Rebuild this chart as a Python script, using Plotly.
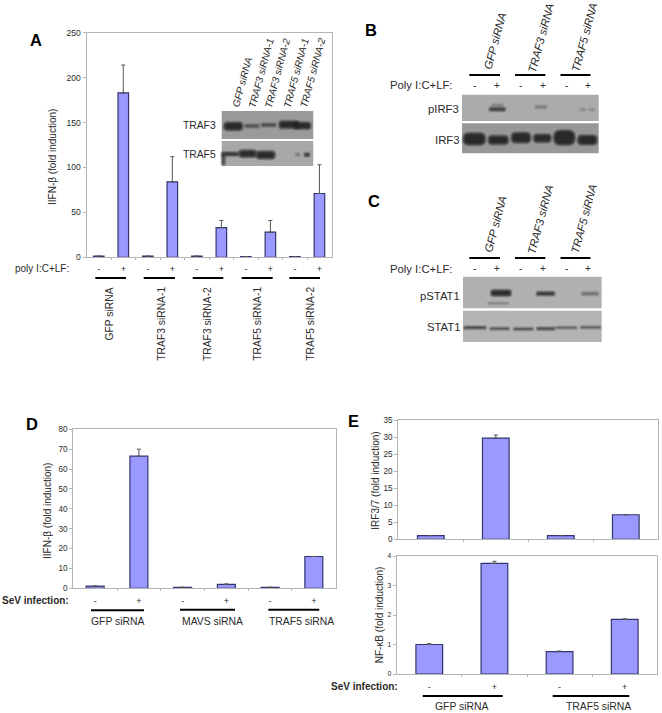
import plotly.graph_objects as go

W, H = 662, 713
FONT = "Liberation Sans, Arial, sans-serif"
FILL = "#9999FF"
EDGE = "#34346E"
AXIS = "#B4B4B4"
TXT = "#2A2A2A"

# ---------- data ----------
signs_10 = ["-", "+"] * 5
signs_6 = ["-", "+"] * 3
signs_4 = ["-", "+"] * 2

a_values = [1.2, 183, 1.2, 84, 1.2, 33, 0.8, 28, 0.8, 71]
a_errors = [None, 31, None, 28, None, 8, None, 13, None, 32]
a_ticks = [0, 50, 100, 150, 200, 250]
a_groups = ["GFP siRNA", "TRAF3 siRNA-1", "TRAF3 siRNA-2", "TRAF5 siRNA-1", "TRAF5 siRNA-2"]

d_values = [1.1, 66.5, 0.5, 2.0, 0.5, 16]
d_errors = [None, 3.5, None, 0.2, None, None]
d_ticks = [0, 10, 20, 30, 40, 50, 60, 70, 80]
d_groups = ["GFP siRNA", "MAVS siRNA", "TRAF5 siRNA"]

e1_values = [1.1, 29.7, 1.1, 7.2]
e1_errors = [None, 0.9, None, None]
e1_ticks = [0, 5, 10, 15, 20, 25, 30, 35]

e2_values = [1.0, 3.75, 0.76, 1.85]
e2_errors = [0.03, 0.07, 0.02, 0.02]
e2_ticks = [0, 1, 2, 3, 4]
e_groups = ["GFP siRNA", "TRAF5 siRNA"]

inset_lanes = ["GFP siRNA", "TRAF3 siRNA-1", "TRAF3 siRNA-2", "TRAF5 siRNA-1", "TRAF5 siRNA-2"]
blot_lanes = ["GFP siRNA", "TRAF3 siRNA", "TRAF5 siRNA"]

fig = go.Figure()
layout = {}
shapes = []
annots = []


def px(x):
    return x / W


def py(y):
    return 1 - y / H


def text(t, x, y, size=10, xa="center", ya="middle", angle=0, color=TXT):
    annots.append(dict(text=t, x=px(x), y=py(y), xref="paper", yref="paper", showarrow=False,
                       xanchor=xa, yanchor=ya, textangle=angle, borderpad=0,
                       font=dict(family=FONT, size=size, color=color)))


def line(x0, x1, y, w=2):
    shapes.append(dict(type="line", xref="paper", yref="paper", x0=px(x0), x1=px(x1),
                       y0=py(y), y1=py(y), line=dict(color="#000000", width=w)))


def panel(n, box, values, errors, ticks, labels, bar_w, tick_size, standoff=5):
    left, top, right, bottom = box
    cnt = len(values)
    pos = list(range(1, cnt + 1))
    suffix = "" if n == 1 else str(n)
    fig.add_trace(go.Bar(
        x=pos, y=values, width=bar_w, marker=dict(color=FILL, line=dict(color=EDGE, width=1.2)),
        error_y=dict(type="data", array=errors, symmetric=False, color="#555555", thickness=1, width=2),
        xaxis="x" + suffix, yaxis="y" + suffix, showlegend=False))
    layout["xaxis" + suffix] = dict(
        domain=[px(left), px(right)], anchor="y" + suffix, range=[0.5, cnt + 0.5],
        tickmode="array", tickvals=pos, ticktext=labels, ticks="", ticklabelstandoff=standoff,
        tickfont=dict(family=FONT, size=9, color=TXT),
        minor=dict(tickmode="array", tickvals=[p + 0.5 for p in pos[:-1]], ticks="outside",
                   ticklen=2, tickcolor=AXIS, tickwidth=1),
        showgrid=False, zeroline=False, showline=True, linecolor=AXIS, linewidth=1, mirror=True, fixedrange=True)
    layout["yaxis" + suffix] = dict(
        domain=[py(bottom), py(top)], anchor="x" + suffix, range=[ticks[0], ticks[-1]],
        tickmode="array", tickvals=ticks, ticks="outside", ticklen=3, tickcolor=AXIS, tickwidth=1,
        tickfont=dict(family=FONT, size=tick_size, color=TXT),
        showgrid=False, zeroline=False, showline=True, linecolor=AXIS, linewidth=1, mirror=True, fixedrange=True)


def pill(cx, cy, w, h):
    r = min(w, h) / 2
    x0, x1, y0, y1 = cx - w / 2, cx + w / 2, cy - h / 2, cy + h / 2
    pts = [("M", x0 + r, y0), ("L", x1 - r, y0), ("Q", x1, y0, x1, y0 + r), ("L", x1, y1 - r),
           ("Q", x1, y1, x1 - r, y1), ("L", x0 + r, y1), ("Q", x0, y1, x0, y1 - r), ("L", x0, y0 + r),
           ("Q", x0, y0, x0 + r, y0)]
    out = []
    for p in pts:
        vals = p[1:]
        coords = [(px(vals[i]), py(vals[i + 1])) for i in range(0, len(vals), 2)]
        out.append(p[0] + " ".join("%.5f,%.5f" % c for c in coords))
    return " ".join(out) + " Z"


def blot(x0, y0, x1, y1, bg, ox, oy, bands):
    shapes.append(dict(type="rect", xref="paper", yref="paper", x0=px(x0), x1=px(x1), y0=py(y0), y1=py(y1),
                       fillcolor=bg, line=dict(width=0), layer="below"))
    for cx, cy, w, h, alpha in bands:
        cx, cy, w, h = ox + cx / 3, oy + cy / 3, (w + 4) / 3, (h + 2) / 3
        for grow, a in ((2.2, 0.13), (1.5, 0.18), (0.9, 0.25), (0.3, 0.32), (-0.4, 0.42), (-1.2, 0.5), (-2.0, 0.5)):
            ww, hh = w + 2 * grow, h + 2 * grow
            if ww <= 0.5 or hh <= 0.5:
                continue
            shapes.append(dict(type="path", xref="paper", yref="paper", path=pill(cx, cy, ww, hh),
                               fillcolor="#242424", opacity=a * alpha, line=dict(width=0), layer="below"))


# ---------- charts ----------
panel(1, (86.5, 32.7, 331.7, 257.3), a_values, a_errors, a_ticks, signs_10, 0.43, 8.6, 3)
panel(2, (73.3, 429.3, 335.7, 588.3), d_values, d_errors, d_ticks, signs_6, 0.41, 8.2, 4)
panel(3, (398.3, 420, 658.3, 539.3), e1_values, e1_errors, e1_ticks, [""] * 4, 0.41, 8.2)
panel(4, (396.7, 556, 657.3, 674), e2_values, e2_errors, e2_ticks, signs_4, 0.41, 6.8, 4)

# ---------- panel A text ----------
text("<b>A</b>", 35.5, 40, 16.5, color="#000000")
text("IIFN-β (fold induction)", 52, 157, 10, angle=-90)
text("poly I:C+LF:", 70, 268, 10, xa="right")
for x0, x1, label, cx in zip([95.3, 143.7, 192.7, 241.7, 289.3], [126, 175, 223.3, 272.7, 320], a_groups,
                             [109, 161.7, 208, 257.7, 310.7]):
    line(x0, x1, 278)
    text(label, cx, 286, 10.3, ya="top", angle=-90)

# inset
inset_ox, inset_oy = 215, 105
blot(221.7, 111, 313.3, 139, "#9A9A9A", inset_ox, inset_oy,
     [(55, 64, 50, 20, 1), (111, 63, 36, 5, 0.6), (161, 60, 36, 5, 0.7), (222, 59, 54, 18, 1), (262, 62, 44, 16, 1)])
blot(221.7, 141, 313.3, 166, "#A8A8A8", inset_ox, inset_oy,
     [(45, 147, 44, 6, 1), (25, 165, 4, 24, 0.7), (98, 146, 46, 17, 1), (152, 150, 50, 19, 1),
      (248, 149, 6, 2, 0.35), (276, 149, 9, 6, 0.9)])
text("TRAF3", 217.3, 126, 10.3, xa="right")
text("TRAF5", 217.3, 154, 10.3, xa="right")
for label, cx, cy in zip(inset_lanes, [241.7, 260.7, 277, 295.7, 313], [82, 73, 73, 73, 72.7]):
    text("<i>%s</i>" % label, cx, cy, 10, angle=-75)

# ---------- panels B and C ----------
for letter, lx, ly, line_y, row_y, centres in (
        ("B", 371, 30, 75, 85.3, [(495, 41), (540.7, 37.7), (584, 37.7)]),
        ("C", 373.7, 201, 258, 268.7, [(495.3, 223.7), (540.7, 219.3), (584, 219.3)])):
    text("<b>%s</b>" % letter, lx, ly, 16.5, color="#000000")
    text("Poly I:C+LF:", 453, row_y, 11.3, xa="right")
    for x0, x1, label, (cx, cy) in zip([469.3, 515, 560.5], [500, 545.3, 590.5], blot_lanes, centres):
        line(x0, x1, line_y)
        text("<i>%s</i>" % label, cx, cy, 11.3, angle=-75)
    for sign, sx in zip(signs_6, [474.3, 497, 520.3, 542.7, 566, 588.3]):
        text(sign, sx, row_y, 10)

bc_ox, b_oy, c_oy = 455, 90, 270
blot(462, 94.7, 598.7, 121, "#ABABAB", bc_ox, b_oy,
     [(127, 58, 40, 5, 0.9), (127, 46, 26, 2, 0.3), (258, 51, 28, 4, 0.3), (384, 59, 8, 2, 0.25), (410, 59, 10, 2, 0.2)])
blot(462, 123.3, 598.7, 153.3, "#989898", bc_ox, b_oy,
     [(58, 147, 60, 32, 1), (130, 150, 54, 22, 1), (198, 143, 52, 27, 1), (262, 145, 46, 20, 1),
      (328, 143, 58, 40, 1), (397, 150, 52, 24, 1)])
text("pIRF3", 460, 109.3, 11.3, xa="right")
text("IRF3", 460, 140, 11.3, xa="right")

blot(463, 276.7, 601.7, 308.3, "#B0B0B0", bc_ox, c_oy,
     [(138, 69, 54, 14, 1), (272, 71, 48, 7, 0.85), (405, 71, 44, 5, 0.4), (130, 100, 54, 2, 0.25)])
blot(463, 310.7, 601.7, 342, "#B4B4B4", bc_ox, c_oy,
     [(60, 173, 58, 3, 0.85), (134, 176, 50, 2, 0.7), (205, 177, 50, 2, 0.75), (272, 176, 46, 3, 0.8),
      (334, 173, 56, 2, 0.55), (407, 172, 52, 2, 0.6)])
text("pSTAT1", 461, 296, 11.3, xa="right")
text("STAT1", 461, 326.7, 11.3, xa="right")

# ---------- panel D text ----------
text("<b>D</b>", 32, 424, 16.5, color="#000000")
text("IIFN-β (fold induction)", 47.7, 511.3, 10, angle=-90)
text("<b>SeV infection:</b>", 70, 600, 10, xa="right")
for x0, x1, label, cx, ly in zip([91, 180, 268.3], [144, 235, 319.3], d_groups, [117.7, 212.7, 301], [610.3, 609.8, 609.8]):
    line(x0, x1, ly)
    text(label, cx, 621.3, 10.4)

# ---------- panel E text ----------
text("<b>E</b>", 353.7, 420.7, 16.5, color="#000000")
text("IRF3/7 (fold induction)", 376, 480.7, 10, angle=-90)
text("NF-κB (fold induction)", 379.3, 615, 10, angle=-90)
text("<b>SeV infection:</b>", 399, 686.3, 10, xa="right")
for x0, x1, label, cx in zip([422.7, 552.7], [502.7, 629.3], e_groups, [461.7, 598.3]):
    line(x0, x1, 696)
    text(label, cx, 706, 10.4)

fig.update_layout(
    width=W, height=H, autosize=False, margin=dict(l=0, r=0, t=0, b=0, autoexpand=False),
    paper_bgcolor="#FFFFFF", plot_bgcolor="rgba(0,0,0,0)", showlegend=False, barmode="overlay",
    shapes=shapes, annotations=annots, **layout)

fig.write_html("out.html", config={"displayModeBar": False},
               post_script="document.body.style.margin='0';document.body.style.overflow='hidden';")
